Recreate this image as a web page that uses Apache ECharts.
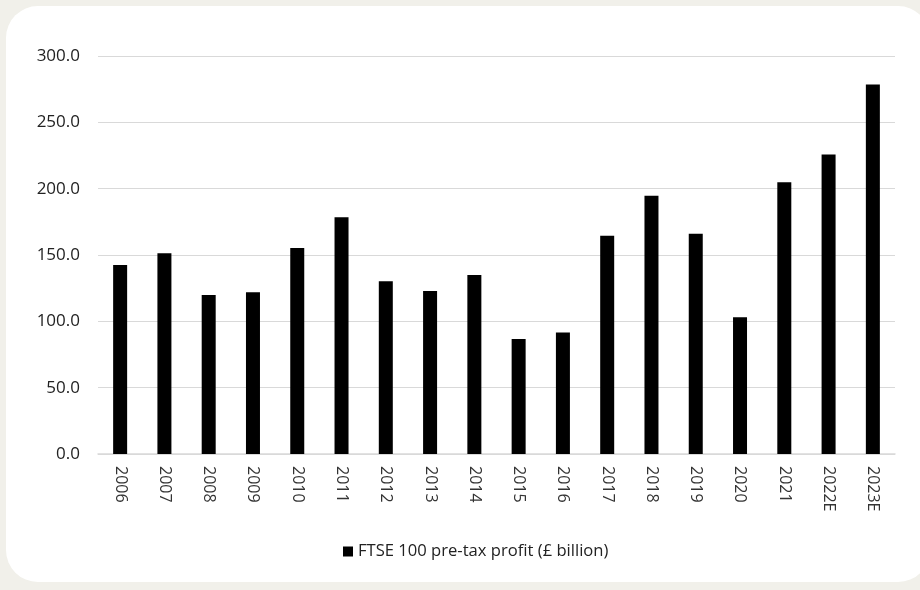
<!DOCTYPE html>
<html>
<head>
<meta charset="utf-8">
<script src="https://cdn.jsdelivr.net/npm/echarts@6/dist/echarts.min.js"></script>
<style>
html,body{margin:0;padding:0;background:#f1f0ea;width:920px;height:590px;overflow:hidden;}
#panel{position:absolute;left:6px;top:6px;width:924px;height:576px;background:#fff;border-radius:32px;}
#chart{position:absolute;left:0;top:0;width:920px;height:590px;}
</style>
</head>
<body>
<div id="panel"></div>
<div id="chart"></div>
<script>
const categories = ['2006','2007','2008','2009','2010','2011','2012','2013','2014','2015','2016','2017','2018','2019','2020','2021','2022E','2023E'];
const profit = [142.5,151.3,119.9,121.9,155.3,178.4,130.2,122.9,135.0,86.7,91.5,164.6,194.6,166.1,103.0,204.8,225.7,278.5];
const seriesName = 'FTSE 100 pre-tax profit (£ billion)';

const chart = echarts.init(document.getElementById('chart'), null, {renderer:'canvas'});
chart.setOption({
  backgroundColor: 'transparent',
  animation: false,
  grid: {left: 98, right: 25, top: 56, bottom: 136},
  legend: {
    data: [seriesName],
    left: 338, top: 538,
    icon: 'rect', itemWidth: 10, itemHeight: 10, itemGap: 4,
    textStyle: {fontFamily: 'Open Sans', fontSize: 16.6, color: '#222'}
  },
  xAxis: {
    type: 'category', data: categories,
    axisLine: {lineStyle: {color: '#d9d9d9', width: 1.5}},
    axisTick: {show: false},
    axisLabel: {rotate: -90, fontFamily: 'Open Sans', fontSize: 16, color: '#333', margin: 12}
  },
  yAxis: {
    type: 'value', min: 0, max: 300, interval: 50,
    axisLine: {show: false}, axisTick: {show: false},
    splitLine: {lineStyle: {color: '#d9d9d9', width: 1.2}},
    axisLabel: {formatter: v => v.toFixed(1), fontFamily: 'Open Sans', fontSize: 17, color: '#222', margin: 18}
  },
  series: [{
    name: seriesName, type: 'bar', data: profit,
    barWidth: 14,
    itemStyle: {color: '#000'}
  }]
});
</script>
</body>
</html>
